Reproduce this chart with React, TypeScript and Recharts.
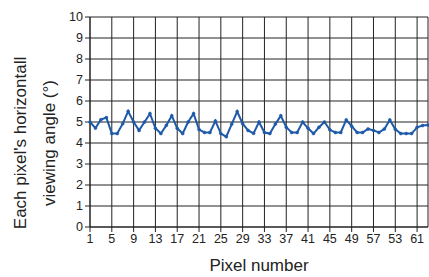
import React from 'react';
import { LineChart, Line, XAxis, YAxis, CartesianGrid } from 'recharts';

const PIXELS = Array.from({ length: 63 }, (_, i) => i + 1);

const VIEW_ANGLE = [
  5.0, 4.71, 5.11, 5.21, 4.45, 4.45, 4.92, 5.51, 5.0, 4.6,
  5.0, 5.4, 4.7, 4.45, 4.84, 5.3, 4.7, 4.45, 5.0, 5.4,
  4.64, 4.5, 4.5, 5.05, 4.45, 4.3, 4.9, 5.5, 4.92, 4.6,
  4.46, 5.0, 4.5, 4.45, 4.9, 5.3, 4.75, 4.5, 4.5, 5.0,
  4.7, 4.45, 4.75, 5.0, 4.63, 4.5, 4.5, 5.1, 4.8, 4.5,
  4.5, 4.67, 4.6, 4.5, 4.67, 5.1, 4.65, 4.45, 4.45, 4.45,
  4.75, 4.83, 4.86,
];

const X_TICKS = [1, 5, 9, 13, 17, 21, 25, 29, 33, 37, 41, 45, 49, 53, 57, 61];
// labels as printed on the original axis (57 and 53 are swapped there)
const X_TICK_LABELS = ['1', '5', '9', '13', '17', '21', '25', '29', '33', '37', '41', '45', '49', '57', '53', '61'];
const Y_TICKS = [0, 1, 2, 3, 4, 5, 6, 7, 8, 9, 10];

const data = PIXELS.map((pixel, i) => ({ pixel, angle: VIEW_ANGLE[i] }));

const FONT = '"Liberation Sans", Arial, sans-serif';

const YTitle = () => (
  <g fontFamily={FONT} fontSize={17} fill="#222">
    <text x={20} y={143} transform="rotate(-90 20 143)" textAnchor="middle" dominantBaseline="central">
      Each pixel's horizontall
    </text>
    <text x={49} y={143} transform="rotate(-90 49 143)" textAnchor="middle" dominantBaseline="central">
      viewing angle (°)
    </text>
  </g>
);

const App = () => {
  return (
    <div style={{ position: 'absolute', left: 0, top: 0, width: 429, height: 277, background: '#fff' }}>
      <LineChart width={429} height={277} data={data} margin={{ top: 17, right: 1, bottom: 0, left: 0 }}>
        <CartesianGrid stroke="#222" strokeWidth={1} />
        <XAxis
          type="number"
          dataKey="pixel"
          domain={[1, 63]}
          ticks={X_TICKS}
          tickFormatter={(v: number) => X_TICK_LABELS[X_TICKS.indexOf(v)]}
          interval={0}
          height={50}
          tickSize={5}
          stroke="#222"
          tick={{ fill: '#222', fontSize: 12.5, fontFamily: FONT }}
          label={{ value: 'Pixel number', position: 'insideBottom', offset: 6, fill: '#222', fontSize: 17, fontFamily: FONT }}
        />
        <YAxis
          type="number"
          domain={[0, 10]}
          ticks={Y_TICKS}
          interval={0}
          width={90}
          tickSize={5}
          stroke="#222"
          tick={{ fill: '#222', fontSize: 12.5, fontFamily: FONT }}
          label={{ content: () => <YTitle /> }}
        />
        <Line
          type="linear"
          dataKey="angle"
          stroke="#1e5aa8"
          strokeWidth={2}
          dot={{ r: 1.5, fill: '#1e5aa8', stroke: '#1e5aa8', strokeWidth: 0.5 }}
          isAnimationActive={false}
        />
      </LineChart>
    </div>
  );
};

export default App;
